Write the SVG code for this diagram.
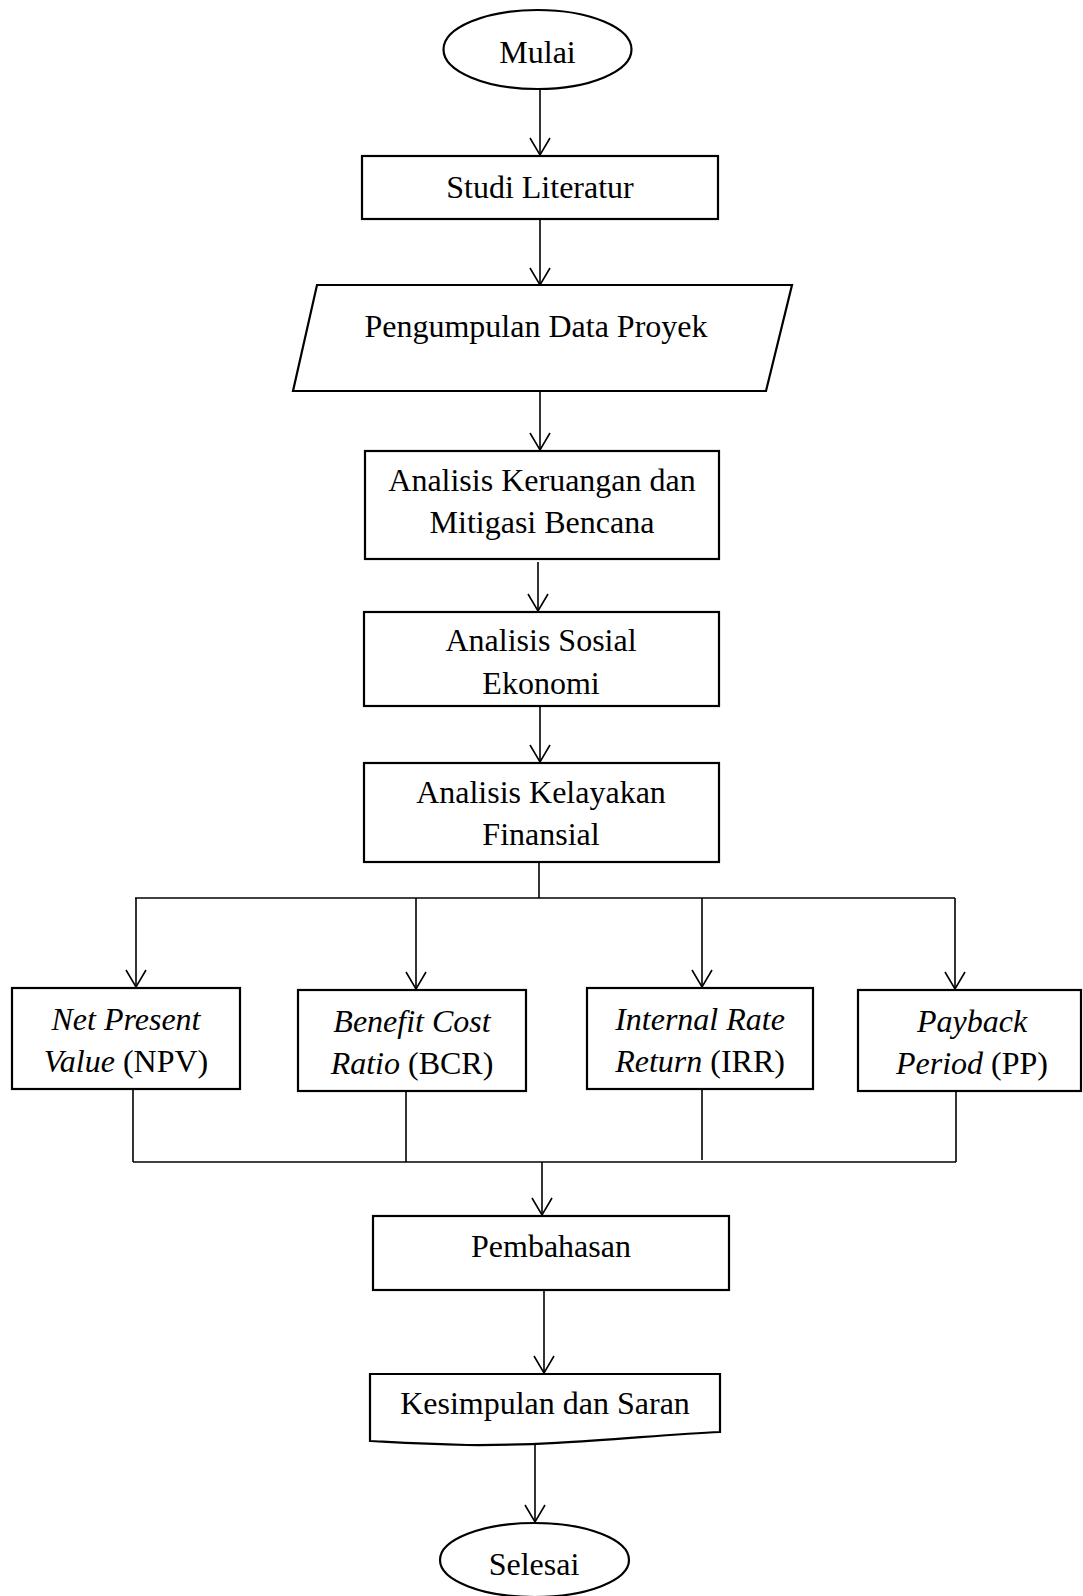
<svg xmlns="http://www.w3.org/2000/svg" width="1083" height="1596" viewBox="0 0 1083 1596">
<defs>
<style>
.box{fill:#fff;stroke:#000;stroke-width:2.2}
.ln{fill:none;stroke:#000;stroke-width:1.6}
.t{font-family:"Liberation Serif","Times New Roman",serif;font-size:32px;fill:#000;text-anchor:middle}
.i{font-style:italic}
</style>
<marker id="arr" markerUnits="userSpaceOnUse" viewBox="-19 -12 21 24" markerWidth="21" markerHeight="24" refX="0" refY="0" orient="auto">
<path d="M-17,-10 L0,0 L-17,10" fill="none" stroke="#000" stroke-width="1.6"/>
</marker>
</defs>
<rect width="1083" height="1596" fill="#fff"/>
<g id="connectors">
<line class="ln" x1="540" y1="89" x2="540" y2="155" marker-end="url(#arr)"/>
<line class="ln" x1="540" y1="219" x2="540" y2="285" marker-end="url(#arr)"/>
<line class="ln" x1="540" y1="391" x2="540" y2="450" marker-end="url(#arr)"/>
<line class="ln" x1="538" y1="562" x2="538" y2="611" marker-end="url(#arr)"/>
<line class="ln" x1="540" y1="706" x2="540" y2="762" marker-end="url(#arr)"/>
<line class="ln" x1="539" y1="862" x2="539" y2="898"/>
<line class="ln" x1="135" y1="898" x2="955" y2="898" stroke-width="2"/>
<line class="ln" x1="136" y1="898" x2="136" y2="987" marker-end="url(#arr)"/>
<line class="ln" x1="416" y1="898" x2="416" y2="989" marker-end="url(#arr)"/>
<line class="ln" x1="702" y1="898" x2="702" y2="987" marker-end="url(#arr)"/>
<line class="ln" x1="955" y1="898" x2="955" y2="989" marker-end="url(#arr)"/>
<line class="ln" x1="133" y1="1089" x2="133" y2="1162"/>
<line class="ln" x1="406" y1="1091" x2="406" y2="1162"/>
<line class="ln" x1="702" y1="1089" x2="702" y2="1160"/>
<line class="ln" x1="956" y1="1091" x2="956" y2="1162"/>
<line class="ln" x1="133" y1="1162" x2="956" y2="1162"/>
<line class="ln" x1="542" y1="1162" x2="542" y2="1215" marker-end="url(#arr)"/>
<line class="ln" x1="544" y1="1290" x2="544" y2="1373" marker-end="url(#arr)"/>
<line class="ln" x1="535" y1="1445" x2="535" y2="1522" marker-end="url(#arr)"/>
</g>
<g id="mulai">
<ellipse class="box" cx="537.5" cy="49.5" rx="94" ry="39.5"/>
<text class="t" x="537.5" y="63">Mulai</text>
</g>
<g id="studi">
<rect class="box" x="362" y="156" width="356" height="63"/>
<text class="t" x="540" y="198">Studi Literatur</text>
</g>
<g id="pengumpulan">
<polygon class="box" points="317,285 792,285 766,391 293,391"/>
<text class="t" x="536" y="337">Pengumpulan Data Proyek</text>
</g>
<g id="keruangan">
<rect class="box" x="365" y="451" width="354" height="108"/>
<text class="t" x="542" y="491">Analisis Keruangan dan</text>
<text class="t" x="542" y="533">Mitigasi Bencana</text>
</g>
<g id="sosial">
<rect class="box" x="364" y="612" width="355" height="94"/>
<text class="t" x="541" y="651">Analisis Sosial</text>
<text class="t" x="541" y="694">Ekonomi</text>
</g>
<g id="kelayakan">
<rect class="box" x="364" y="763" width="355" height="99"/>
<text class="t" x="541" y="803">Analisis Kelayakan</text>
<text class="t" x="541" y="845">Finansial</text>
</g>
<g id="npv">
<rect class="box" x="12" y="988" width="228" height="101"/>
<text class="t" x="126" y="1030"><tspan class="i">Net Present</tspan></text>
<text class="t" x="126" y="1072"><tspan class="i">Value</tspan> (NPV)</text>
</g>
<g id="bcr">
<rect class="box" x="298" y="990" width="228" height="101"/>
<text class="t" x="412" y="1032"><tspan class="i">Benefit Cost</tspan></text>
<text class="t" x="412" y="1074"><tspan class="i">Ratio</tspan> (BCR)</text>
</g>
<g id="irr">
<rect class="box" x="587" y="988" width="226" height="101"/>
<text class="t" x="700" y="1030"><tspan class="i">Internal Rate</tspan></text>
<text class="t" x="700" y="1072"><tspan class="i">Return</tspan> (IRR)</text>
</g>
<g id="pp">
<rect class="box" x="858" y="990" width="223" height="101"/>
<text class="t" x="972" y="1032"><tspan class="i">Payback</tspan></text>
<text class="t" x="972" y="1074"><tspan class="i">Period</tspan> (PP)</text>
</g>
<g id="pembahasan">
<rect class="box" x="373" y="1216" width="356" height="74"/>
<text class="t" x="551" y="1257">Pembahasan</text>
</g>
<g id="kesimpulan">
<path class="box" d="M370,1374 H720 V1432 C650,1435 560,1446 467,1445 C420,1444 390,1442 370,1441 Z"/>
<text class="t" x="545" y="1414">Kesimpulan dan Saran</text>
</g>
<g id="selesai">
<ellipse class="box" cx="534.5" cy="1560" rx="94.5" ry="37"/>
<text class="t" x="534" y="1575">Selesai</text>
</g>
</svg>
